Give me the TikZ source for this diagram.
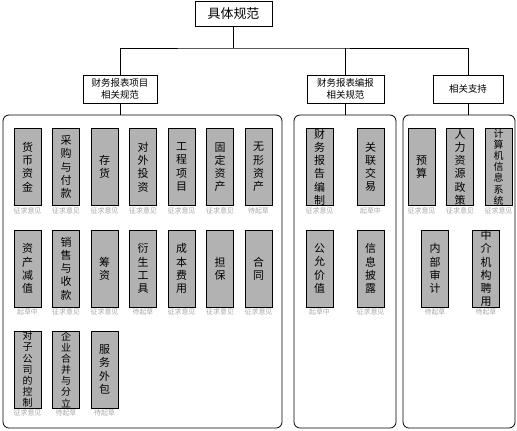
\documentclass[tikz,border=0pt]{standalone}
\usepackage{fontspec}
\newfontfamily\cjk{Noto Sans CJK SC}

\tikzset{
  headbox/.style={draw, line width=0.8bp, font=\cjk\fontsize{13}{15}\selectfont, minimum width=77bp, minimum height=25bp, inner sep=0},
  subbox/.style={draw, line width=0.8bp, font=\cjk\fontsize{9.5}{12}\selectfont, align=center, minimum height=28bp, inner sep=0},
  grp/.style={draw, line width=0.8bp, rounded corners=6bp, minimum height=313bp, inner sep=0},
  item/.style={draw, line width=0.8bp, fill=black!30, minimum width=27bp, minimum height=77bp, inner xsep=0, inner ysep=-3bp, align=center, font=\cjk\fontsize{11}{13.3}\selectfont},
  tight/.style={font=\cjk\fontsize{10}{11.2}\selectfont},
  status/.style={font=\cjk\fontsize{7}{8}\selectfont, text=black!35, inner sep=1bp},
}

\begin{document}
\begin{tikzpicture}[x=1bp, y={(0,-1bp)}, line width=0.8bp]
  \useasboundingbox (0,0) rectangle (517,430);

  % Top level
  \node[headbox] (spec) at (233.5,13.5) {具体规范};
  \coordinate (bus) at (233.5,48);

  % Second level
  \node[subbox, minimum width=74bp] (itemstd) at (120,89) {财务报表项目\\相关规范};
  \node[subbox, minimum width=77bp] (compstd) at (345.5,89) {财务报表编报\\相关规范};
  \node[subbox, minimum width=70bp] (support) at (468,89) {相关支持};

  % Group frames
  \node[grp, minimum width=279bp] (g1) at (142.5,271.5) {};
  \node[grp, minimum width=102bp] (g2) at (345,271.5) {};
  \node[grp, minimum width=112bp] (g3) at (459,271.5) {};

  % Connectors
  \draw (spec.south) -- (bus);
  \draw (itemstd.north) |- (bus) -| (support.north);
  \draw (compstd.north) -- (compstd.north |- bus);
  \draw (itemstd.south) -- (itemstd.south |- g1.north);
  \draw (compstd.south) -- (compstd.south |- g2.north);
  \draw (support.south) -- (support.south |- g3.north);

  % Financial statement items, row 1
  \node[item, label={[status]below:征求意见}] (cash) at (27.5,167) {货\\币\\资\\金};
  \node[item, label={[status]below:征求意见}] (purchase) at (66,167) {采\\购\\与\\付\\款};
  \node[item, label={[status]below:征求意见}] (stock) at (104.5,167) {存\\货};
  \node[item, label={[status]below:征求意见}] (invest) at (143,167) {对\\外\\投\\资};
  \node[item, label={[status]below:征求意见}] (project) at (181.5,167) {工\\程\\项\\目};
  \node[item, label={[status]below:征求意见}] (fixed) at (220,167) {固\\定\\资\\产};
  \node[item, label={[status]below:待起草}] (intang) at (258.5,167) {无\\形\\资\\产};

  % row 2
  \node[item, label={[status]below:起草中}] (impair) at (27.5,268.5) {资\\产\\减\\值};
  \node[item, label={[status]below:征求意见}] (sales) at (66,268.5) {销\\售\\与\\收\\款};
  \node[item, label={[status]below:征求意见}] (funding) at (104.5,268.5) {筹\\资};
  \node[item, label={[status]below:待起草}] (deriv) at (143,268.5) {衍\\生\\工\\具};
  \node[item, label={[status]below:征求意见}] (cost) at (181.5,268.5) {成\\本\\费\\用};
  \node[item, label={[status]below:征求意见}] (guarantee) at (220,268.5) {担\\保};
  \node[item, label={[status]below:征求意见}] (contract) at (258.5,268.5) {合\\同};

  % row 3
  \node[item, tight, label={[status]below:征求意见}] (subsid) at (27.5,369.5) {对\\子\\公\\司\\的\\控\\制};
  \node[item, tight, label={[status]below:待起草}] (merger) at (66,369.5) {企\\业\\合\\并\\与\\分\\立};
  \node[item, label={[status]below:待起草}] (outsrc) at (104.5,369.5) {服\\务\\外\\包};

  % Reporting
  \node[item, label={[status]below:征求意见}] (report) at (319.5,167) {财\\务\\报\\告\\编\\制};
  \node[item, label={[status]below:起草中}] (related) at (370.5,167) {关\\联\\交\\易};
  \node[item, label={[status]below:起草中}] (fairval) at (319.5,268.5) {公\\允\\价\\值};
  \node[item, label={[status]below:征求意见}] (disclose) at (370.5,268.5) {信\\息\\披\\露};

  % Support
  \node[item, label={[status]below:征求意见}] (budget) at (421.5,167) {预\\算};
  \node[item, label={[status]below:征求意见}] (hr) at (460,167) {人\\力\\资\\源\\政\\策};
  \node[item, tight, label={[status]below:征求意见}] (itsys) at (498.5,167) {计\\算\\机\\信\\息\\系\\统};
  \node[item, label={[status]below:待起草}] (audit) at (435,268.5) {内\\部\\审\\计};
  \node[item, label={[status]below:待起草}] (agency) at (486,268.5) {中\\介\\机\\构\\聘\\用};
\end{tikzpicture}
\end{document}
